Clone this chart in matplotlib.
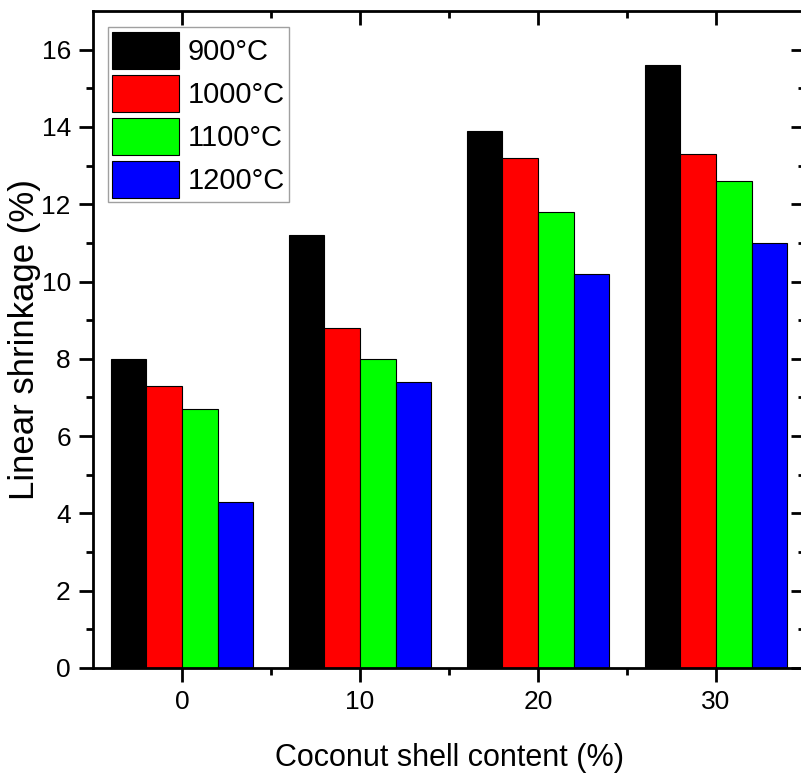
import matplotlib.pyplot as plt
import numpy as np

plt.rcParams['font.family'] = ['Liberation Sans', 'DejaVu Sans']

# Data
content = ['0', '10', '20', '30']
temps = ['900°C', '1000°C', '1100°C', '1200°C']
s900 = [8.0, 11.2, 13.9, 15.6]
s1000 = [7.3, 8.8, 13.2, 13.3]
s1100 = [6.7, 8.0, 11.8, 12.6]
s1200 = [4.3, 7.4, 10.2, 11.0]
colors = ['#000000', '#ff0000', '#00ff00', '#0000ff']

fig = plt.figure(figsize=(8.01, 7.74), dpi=100)
ax = fig.add_axes([0.1161, 0.137, 1.005 - 0.1161, 0.9858 - 0.137])

x = np.arange(len(content))
w = 0.2
for i, (vals, lab) in enumerate(zip([s900, s1000, s1100, s1200], temps)):
    ax.bar(x + (i - 1.5) * w, vals, width=w, color=colors[i],
           edgecolor='black', linewidth=0.8, label=lab)

ax.set_xlim(-0.5, 3.5)
ax.set_ylim(0, 17)
ax.set_xticks(x)
ax.set_xticklabels(content)
ax.set_xticks(x[:-1] + 0.5, minor=True)
ax.set_yticks(np.arange(0, 17, 2))
ax.set_yticks(np.arange(1, 17, 2), minor=True)

for sp in ax.spines.values():
    sp.set_linewidth(2)

ax.tick_params(axis='both', which='major', labelsize=19, length=10, width=2,
               direction='out', pad=6)
ax.tick_params(axis='both', which='minor', length=5, width=2, direction='out')
ax.tick_params(top=True, right=True, which='both')
for t in ax.xaxis.get_major_ticks() + ax.xaxis.get_minor_ticks():
    t.tick2line.set_marker(3)  # inward on top
for t in ax.yaxis.get_major_ticks() + ax.yaxis.get_minor_ticks():
    t.tick2line.set_marker(0)  # inward on right

ax.set_xlabel('Coconut shell content (%)', fontsize=22, labelpad=21)
ax.set_ylabel('Linear shrinkage (%)', fontsize=25)
ax.yaxis.set_label_coords(-0.073, 0.5)

leg = ax.legend(loc='upper left', bbox_to_anchor=(0.021, 0.975), fontsize=21,
                frameon=True, fancybox=False, edgecolor='#888888',
                handlelength=2.28, handleheight=1.58, labelspacing=0.2,
                handletextpad=0.3, borderpad=0.15, borderaxespad=0)
leg.get_frame().set_linewidth(1)

fig.savefig('out.png', dpi=100)
